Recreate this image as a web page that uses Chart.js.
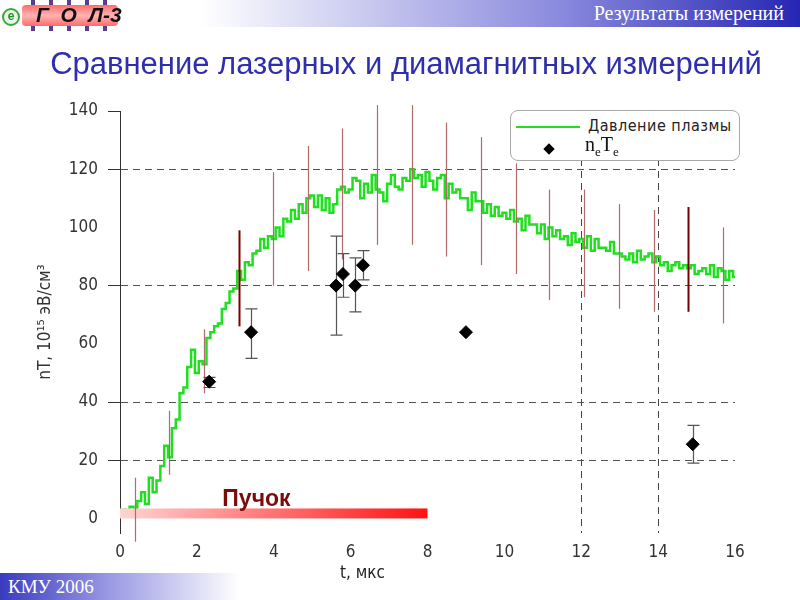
<!DOCTYPE html>
<html lang="ru">
<head>
<meta charset="utf-8">
<title>Сравнение лазерных и диамагнитных измерений</title>
<script src="https://cdn.jsdelivr.net/npm/chart.js@4.4.1/dist/chart.umd.min.js"></script>
<style>
  body { margin: 0; background: #fff; }
  #page { position: relative; width: 800px; height: 600px; overflow: hidden; font-family: 'Liberation Sans', Arial, sans-serif; }
  #chart { position: absolute; left: 0; top: 0; }
  .banner { position: absolute; left: 0; top: 0; width: 800px; height: 27px;
    background: linear-gradient(to right, #fff 0, #fff 200px, #8a8ade 560px, #2626b4 800px); }
  .banner span { position: absolute; right: 16px; top: 2px; color: #fff; font: 20px 'Liberation Serif', 'Times New Roman', serif; }
  .footer { position: absolute; left: 0; top: 573px; width: 240px; height: 27px;
    background: linear-gradient(to right, #3a3abf 0, #9a9ae4 110px, #fff 240px); }
  .footer span { position: absolute; left: 8px; top: 3px; color: #fff; font: 19px 'Liberation Serif', 'Times New Roman', serif; }
  h1 { position: absolute; left: 0; top: 46px; width: 812px; margin: 0; text-align: center; white-space: nowrap;
    font: 31px 'Liberation Sans', Arial, sans-serif; color: #2f2fae; font-weight: normal; }
  .logo { position: absolute; left: 0; top: 0; width: 120px; height: 32px; }
  .logo .box { position: absolute; left: 22px; top: 5px; width: 96px; height: 21px;
    background: linear-gradient(to bottom, #ff6a6a, #ffb4b4 50%, #ff6a6a); border-radius: 4px; }
  .logo .box b { position: absolute; left: 14px; top: -2px; font: italic bold 21px 'Liberation Sans', Arial, sans-serif; color: #111; white-space: pre; }
  .logo .pin { position: absolute; width: 4px; height: 5px; background: #5b3d8f; }
  .logo .e { position: absolute; left: 2px; top: 8px; width: 14px; height: 14px; border: 2px solid #3aa83a; border-radius: 50%;
    background: #e8f6e8; color: #2a8a2a; font: bold 12px 'Liberation Sans', Arial, sans-serif; text-align: center; line-height: 13px; }
  .legend { position: absolute; left: 510px; top: 110px; width: 228px; height: 49px; background: #fff;
    border: 1px solid #a8a8a8; border-radius: 8px; }
  .legend .swatch { position: absolute; left: 5px; top: 15px; width: 64px; height: 2px; background: #22dd22; }
  .legend .lbl1 { position: absolute; left: 77px; top: 5px; white-space: nowrap; font: 16px 'DejaVu Sans Condensed', 'Liberation Sans Narrow', sans-serif; color: #222; letter-spacing: 0.5px; }
  .legend .dmd { position: absolute; left: 34px; top: 34px; width: 8px; height: 8px; background: #000; transform: rotate(45deg); }
  .legend .lbl2 { position: absolute; left: 74px; top: 22px; white-space: nowrap; font: 20px 'Liberation Serif', 'Times New Roman', serif; color: #111; }
  .legend .lbl2 sub { font-size: 13px; }
  .xtitle { position: absolute; left: 340px; top: 562px; white-space: nowrap; font: 17px 'DejaVu Sans Condensed', 'Liberation Sans Narrow', sans-serif; color: #222; }
</style>
</head>
<body>
<div id="page">
  <canvas id="chart" width="800" height="600"></canvas>
  <div class="banner"><span>Результаты измерений</span></div>
  <div class="logo">
    <div class="box"><b>Г  О  Л-3</b></div>
    <div class="pin" style="left:31px;top:0"></div><div class="pin" style="left:49px;top:0"></div>
    <div class="pin" style="left:67px;top:0"></div><div class="pin" style="left:85px;top:0"></div>
    <div class="pin" style="left:103px;top:0"></div>
    <div class="pin" style="left:31px;top:26px"></div><div class="pin" style="left:49px;top:26px"></div>
    <div class="pin" style="left:67px;top:26px"></div><div class="pin" style="left:85px;top:26px"></div>
    <div class="pin" style="left:103px;top:26px"></div>
    <div class="e">e</div>
  </div>
  <h1>Сравнение лазерных и диамагнитных измерений</h1>
  <div class="legend">
    <span class="swatch"></span><span class="lbl1">Давление плазмы</span>
    <span class="dmd"></span><span class="lbl2">n<sub>e</sub>T<sub>e</sub></span>
  </div>
  <div class="xtitle">t, мкс</div>
  <div class="footer"><span>КМУ 2006</span></div>
</div>
<script>
// давление плазмы (диамагнитные измерения), отсчёты через 0.1 мкс начиная с t = 0
const pressureT0 = 0;
const pressureDt = 0.1;
const pressureValues = [
  2, 3, 1, 4, 2, 6, 9, 5, 14, 9, 13,
  18, 25, 21, 31, 34, 43, 45, 52, 58, 50,
  54, 53, 62, 64, 66, 67, 72, 74, 78, 79,
  85, 82, 88, 87, 91, 92, 96, 93, 97, 96,
  100, 97, 103, 102, 106, 103, 108, 105, 110, 111,
  107, 111, 106, 110, 105, 108, 113, 114, 112, 113,
  117, 116, 110, 115, 112, 118, 113, 112, 109, 115,
  118, 114, 113, 117, 116, 120, 117, 118, 114, 119,
  116, 113, 117, 118, 110, 115, 112, 113, 110, 110,
  106, 112, 109, 109, 105, 108, 104, 107, 104, 105,
  103, 106, 102, 103, 99, 104, 101, 101, 98, 101,
  96, 100, 97, 99, 96, 97, 94, 98, 95, 96,
  93, 97, 92, 96, 93, 93, 92, 95, 91, 91,
  90, 89, 91, 88, 92, 89, 90, 91, 88, 90,
  87, 88, 85, 87, 88, 86, 87, 86, 87, 84,
  85, 86, 84, 87, 83, 86, 85, 82, 85, 83
];

// погрешности давления
const pressureErrT = [0.39, 1.28, 2.19, 3.1, 3.98, 4.9, 5.78, 6.69, 7.6, 8.49, 9.38, 10.29, 11.17, 12.08, 12.97, 13.9, 14.79, 15.7];
const pressureErrLow = [-8, 15, 43, 66, 80, 85, 89, 94, 94, 90, 87, 84, 75, 76, 72, 71, 71, 67];
const pressureErrHigh = [14, 37, 65, 99, 119, 128, 134, 142, 142, 136, 131, 122, 113, 113, 108, 106, 107, 100];

// лазерные измерения neTe
const neTeT = [2.32, 3.41, 5.62, 5.8, 6.12, 6.32, 9.0, 14.9];
const neTeValues = [47, 64, 80, 84, 80, 87, 64, 25.5];
const neTeLow = [45, 55, 63, 76, 71, 82, null, 19];
const neTeHigh = [48.5, 72, 97, 91, 89.5, 92, null, 32];

// пучок
const beamRange = [0, 8];

const xTicks = [0, 2, 4, 6, 8, 10, 12, 14, 16];
const yTicks = [0, 20, 40, 60, 80, 100, 120, 140];
const yGrid = [20, 40, 80, 120];
const yTickMarks = [20, 40, 80, 120, 140];
const xGrid = [12, 14];

const narrow = "'DejaVu Sans Condensed', 'Liberation Sans Narrow', sans-serif";

const extras = {
  id: 'extras',
  afterDatasetDraw(chart, args) {
    if (args.index !== 0) return;
    const { ctx, scales: { x, y } } = chart;
    ctx.save();

    // полоса пучка
    const bx0 = x.getPixelForValue(beamRange[0]);
    const bx1 = x.getPixelForValue(beamRange[1]);
    const by = y.getPixelForValue(0);
    const g = ctx.createLinearGradient(bx0, 0, bx1, 0);
    g.addColorStop(0, '#ffd4d4');
    g.addColorStop(1, '#ff1212');
    ctx.fillStyle = g;
    ctx.fillRect(bx0, by - 10, bx1 - bx0, 10);
    ctx.font = "bold 23px 'Liberation Sans', Arial, sans-serif";
    ctx.fillStyle = '#7a0c0c';
    ctx.textAlign = 'center';
    ctx.textBaseline = 'alphabetic';
    ctx.fillText('Пучок', x.getPixelForValue(3.55), by - 12);

    // вертикальные погрешности давления
    pressureErrT.forEach((t, i) => {
      const px = Math.round(x.getPixelForValue(t)) + 0.5;
      const dark = i === 3 || i === 16;
      ctx.strokeStyle = dark ? '#780000' : '#b36a6a';
      ctx.lineWidth = dark ? 2 : 1.2;
      ctx.beginPath();
      ctx.moveTo(px, y.getPixelForValue(pressureErrLow[i]));
      ctx.lineTo(px, y.getPixelForValue(pressureErrHigh[i]));
      ctx.stroke();
    });

    // погрешности neTe
    ctx.strokeStyle = '#555';
    ctx.lineWidth = 1.2;
    neTeT.forEach((t, i) => {
      if (neTeLow[i] == null) return;
      const px = Math.round(x.getPixelForValue(t)) + 0.5;
      const lo = y.getPixelForValue(neTeLow[i]);
      const hi = y.getPixelForValue(neTeHigh[i]);
      ctx.beginPath();
      ctx.moveTo(px, lo); ctx.lineTo(px, hi);
      ctx.moveTo(px - 6, lo); ctx.lineTo(px + 6, lo);
      ctx.moveTo(px - 6, hi); ctx.lineTo(px + 6, hi);
      ctx.stroke();
    });
    ctx.restore();
  }
};

new Chart(document.getElementById('chart'), {
  type: 'scatter',
  data: {
    datasets: [{
      label: 'Давление плазмы',
      data: pressureValues.map((v, i) => ({ x: pressureT0 + i * pressureDt, y: v })),
      showLine: true,
      stepped: 'middle',
      borderColor: '#22dd22',
      borderWidth: 2.5,
      pointRadius: 0,
      order: 2
    }, {
      label: 'neTe',
      data: neTeT.map((t, i) => ({ x: t, y: neTeValues[i] })),
      pointStyle: 'rectRot',
      pointRadius: 6.5,
      backgroundColor: '#000',
      borderColor: '#000',
      order: 1
    }]
  },
  options: {
    responsive: false,
    animation: false,
    devicePixelRatio: 1,
    layout: { padding: { left: 0, top: 111, right: 65, bottom: 0 } },
    plugins: { legend: { display: false }, tooltip: { enabled: false } },
    scales: {
      x: {
        type: 'linear',
        min: 0, max: 16,
        afterFit: s => { s.height = 67; },
        afterBuildTicks: s => { s.ticks = xTicks.map(v => ({ value: v })); },
        border: { display: false, dash: [7, 5] },
        grid: {
          color: c => xGrid.includes(c.tick && c.tick.value) ? '#444' : 'rgba(0,0,0,0)',
          tickColor: 'rgba(0,0,0,0)',
          tickLength: 8,
          lineWidth: 1
        },
        ticks: { padding: 1, color: '#333', font: { family: narrow, size: 17 }, maxRotation: 0 }
      },
      y: {
        min: -5, max: 140,
        afterFit: s => { s.width = 120; },
        afterBuildTicks: s => { s.ticks = yTicks.map(v => ({ value: v })); },
        border: { display: true, color: '#333', width: 1, dash: [7, 5] },
        grid: {
          color: c => yGrid.includes(c.tick && c.tick.value) ? '#555' : 'rgba(0,0,0,0)',
          tickColor: c => yTickMarks.includes(c.tick && c.tick.value) ? '#333' : 'rgba(0,0,0,0)',
          tickLength: 12,
          lineWidth: 1
        },
        ticks: { padding: 10, color: '#333', font: { family: narrow, size: 17 } },
        title: {
          display: true,
          text: 'nT, 10¹⁵ эВ/см³',
          color: '#333',
          font: { family: narrow, size: 17 },
          padding: { top: 35, bottom: 0 }
        }
      }
    }
  },
  plugins: [extras]
});
</script>
</body>
</html>
